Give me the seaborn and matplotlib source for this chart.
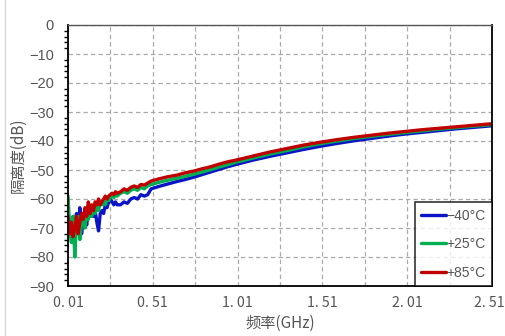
import numpy as np
import pandas as pd
import matplotlib
matplotlib.use("Agg")
import matplotlib.pyplot as plt
import seaborn as sns
from matplotlib.ticker import FixedLocator, MultipleLocator
from matplotlib.lines import Line2D
import matplotlib.transforms as mtransforms

freq = [0.01, 0.02, 0.03, 0.04, 0.05, 0.06, 0.07, 0.08, 0.09, 0.10,
        0.11, 0.12, 0.13, 0.14, 0.15, 0.16, 0.17, 0.18, 0.19, 0.20,
        0.21, 0.22, 0.23, 0.24, 0.25, 0.26, 0.27, 0.28, 0.29, 0.30,
        0.32, 0.34, 0.36, 0.38, 0.40, 0.42, 0.44, 0.46, 0.48, 0.50,
        0.55, 0.60, 0.65, 0.70, 0.75, 0.80, 0.85, 0.90, 0.95, 1.00,
        1.1, 1.2, 1.3, 1.4, 1.5, 1.6, 1.7, 1.8, 1.9, 2.0,
        2.1, 2.2, 2.3, 2.4, 2.5, 2.51]

iso_m40 = [-64, -73, -70, -66, -73, -65, -70, -63, -72, -67,
           -66, -69, -64, -66, -63, -66, -64, -68, -71, -65,
           -64, -65, -62, -63, -61, -60, -61, -62, -61, -62,
           -62, -61, -61.5, -60, -59.5, -60, -58.5, -59, -58.5, -56.5,
           -55.6, -54.8, -54, -53.3, -52.5, -51.6, -50.7, -49.8, -48.9, -48.1,
           -46.6, -45.3, -44.1, -42.9, -41.8, -40.8, -39.9, -39.1, -38.3, -37.6,
           -37, -36.4, -35.8, -35.3, -34.8, -34.8]

iso_p25 = [-59, -70, -75, -66, -80, -68, -66, -74, -68, -66,
           -70, -65, -67, -64, -66, -63, -65, -62, -64, -61,
           -62, -61, -62, -60, -60.5, -59.5, -59, -59.5, -58.5, -59,
           -58, -57.5, -58, -57, -56.5, -57, -56, -56.5, -55.5, -55,
           -54.2, -53.5, -52.9, -52.2, -51.5, -50.7, -49.9, -49, -48.2, -47.3,
           -45.9, -44.5, -43.3, -42, -40.9, -40, -39.1, -38.4, -37.7, -37.1,
           -36.5, -35.9, -35.4, -34.9, -34.4, -34.4]

iso_p85 = [-66, -72, -68, -73, -70, -66, -72, -68, -65, -67,
           -63, -66, -61, -65, -62, -64, -61, -62, -60, -62,
           -61, -60, -59, -60, -59, -58.5, -58, -58.5, -57.5, -58,
           -57.5, -56.5, -57, -56, -55.5, -56, -55, -55.2, -54.5, -53.8,
           -53, -52.3, -51.8, -51, -50.4, -49.6, -48.9, -48, -47.2, -46.6,
           -45.2, -43.8, -42.6, -41.4, -40.4, -39.5, -38.7, -38, -37.3, -36.7,
           -36.1, -35.6, -35.1, -34.6, -34.1, -34.1]

series_names = ["\u221240\u00b0C", "+25\u00b0C", "+85\u00b0C"]
colors = ["#0a14c8", "#00b050", "#c00000"]

x_tick_vals = [0.01, 0.26, 0.51, 0.76, 1.01, 1.26, 1.51, 1.76, 2.01, 2.26, 2.51]
x_tick_labels = ["0. 01", "", "0. 51", "", "1. 01", "", "1. 51", "", "2. 01", "", "2. 51"]
y_tick_vals = [0, -10, -20, -30, -40, -50, -60, -70, -80, -90]
y_tick_labels = ["0", "\u221210", "\u221220", "\u221230", "\u221240", "\u221250",
                 "\u221260", "\u221270", "\u221280", "\u221290"]

df = pd.DataFrame({
    "freq": freq * 3,
    "iso": iso_m40 + iso_p25 + iso_p85,
    "temp": [series_names[0]] * len(freq) + [series_names[1]] * len(freq) + [series_names[2]] * len(freq),
})

sns.set_style("white")
plt.rcParams["font.family"] = ["Liberation Sans", "Noto Sans CJK SC", "DejaVu Sans"]

fig = plt.figure(figsize=(5.06, 3.36), dpi=100)
ax = fig.add_axes([68 / 506, 1 - 286 / 336, (492 - 68) / 506, (286 - 25) / 336])

sns.lineplot(data=df, x="freq", y="iso", hue="temp", palette=colors,
             hue_order=series_names, linewidth=2.4, ax=ax, legend=True)

ax.set_xlim(0.01, 2.51)
ax.set_ylim(-90, 0)

ax.xaxis.set_major_locator(FixedLocator(x_tick_vals))
ax.set_xticklabels(x_tick_labels, fontsize=10.2, color="#555555",
                   family=["Noto Sans CJK SC", "DejaVu Sans"])
ax.xaxis.set_minor_locator(FixedLocator([0.01 + 0.125 * k for k in range(21)]))
ax.set_yticks(y_tick_vals)
ax.set_yticklabels(y_tick_labels, fontsize=10.5, color="#555555")
ax.yaxis.set_minor_locator(MultipleLocator(2))

ax.tick_params(axis="x", which="both", direction="in", length=5, width=1, color="black", pad=7)
ax.tick_params(axis="y", which="major", direction="out", length=5, width=1, color="black", pad=5)
ax.tick_params(axis="y", which="minor", direction="out", length=3, width=1, color="black", left=True)

# nudge the last x tick label so it stays inside the figure
last_lbl = ax.get_xticklabels()[-1]
last_lbl.set_transform(last_lbl.get_transform() +
                       mtransforms.ScaledTranslation(-3 / 100, 0, fig.dpi_scale_trans))

ax.grid(True, which="major", color="#aaaaaa", linestyle=(0, (3.5, 2.5)), linewidth=0.9)

for side in ["left", "bottom", "right"]:
    ax.spines[side].set_color("black")
    ax.spines[side].set_linewidth(1.3)
ax.spines["top"].set_color("#555555")
ax.spines["top"].set_linewidth(1.0)

ax.set_xlabel("\u9891\u7387(GHz)", fontsize=11, color="#555555",
              family=["Noto Sans CJK SC", "DejaVu Sans"], labelpad=4)
ax.set_ylabel("\u9694\u79bb\u5ea6(dB)", fontsize=11, color="#555555",
              family=["Noto Sans CJK SC", "DejaVu Sans"], labelpad=2)

leg = ax.legend(loc="lower right", frameon=True, fancybox=False, fontsize=10,
                handlelength=1.8, handletextpad=0.05, borderaxespad=0,
                labelspacing=1.05, borderpad=0.45, edgecolor="black")
leg.get_frame().set_linewidth(1.2)
for t in leg.get_texts():
    t.set_color("#555555")
for h in leg.get_lines():
    h.set_linewidth(2.4)

fig.add_artist(Line2D([5 / 506, 5 / 506], [0, 1], transform=fig.transFigure,
                      color="#d6d6d6", linewidth=1))

fig.savefig("out.png", dpi=100, facecolor="white")
